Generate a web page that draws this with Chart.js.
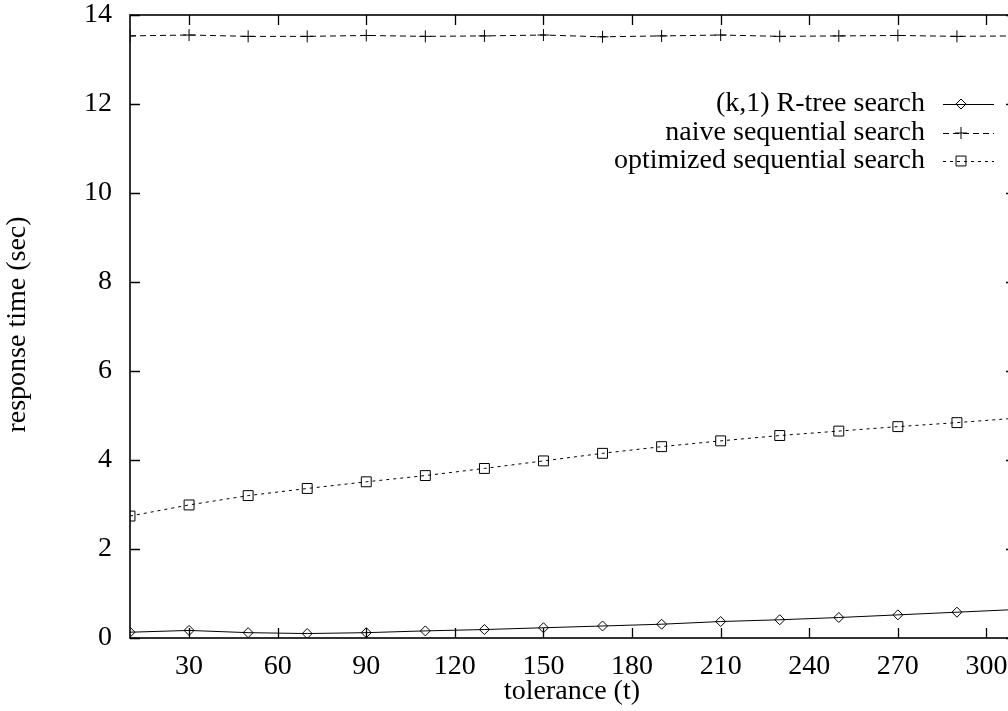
<!DOCTYPE html>
<html>
<head>
<meta charset="utf-8">
<script src="https://cdn.jsdelivr.net/npm/chart.js@4/dist/chart.umd.min.js"></script>
<style>
  html, body { margin: 0; padding: 0; background: #fff; overflow: hidden; }
  #wrap { width: 1040px; height: 711px; }
</style>
</head>
<body>
<div id="wrap"><canvas id="chart"></canvas></div>
<script>
// tolerance values (x)
const tolerance = [10, 30, 50, 70, 90, 110, 130, 150, 170, 190, 210, 230, 250, 270, 290, 310];

// response times (sec)
const rtreeSearch = [0.13, 0.17, 0.12, 0.10, 0.12, 0.16, 0.19, 0.23, 0.27, 0.31, 0.37, 0.41, 0.46, 0.52, 0.58, 0.64];
const naiveSearch = [13.53, 13.55, 13.52, 13.52, 13.54, 13.52, 13.53, 13.55, 13.51, 13.53, 13.55, 13.52, 13.53, 13.54, 13.52, 13.53];
const optimizedSearch = [2.74, 2.99, 3.20, 3.36, 3.51, 3.65, 3.81, 3.98, 4.15, 4.30, 4.43, 4.55, 4.65, 4.75, 4.84, 4.94];

const xTicks = [30, 60, 90, 120, 150, 180, 210, 240, 270, 300];
const yTicks = [0, 2, 4, 6, 8, 10, 12, 14];

const seriesNames = ["(k,1) R-tree search", "naive sequential search", "optimized sequential search"];

const FONT = "'Liberation Serif', 'DejaVu Serif', serif";
const FONT_SIZE = 28;

function toPoints(ys) {
  return tolerance.map((x, i) => ({ x: x, y: ys[i] }));
}

// gnuplot-like frame: inward ticks on all four sides, axis titles, legend
const gnuplotFrame = {
  id: "gnuplotFrame",
  afterDraw(chart) {
    const ctx = chart.ctx;
    const area = chart.chartArea;
    const xs = chart.scales.x;
    const ys = chart.scales.y;
    ctx.save();
    ctx.strokeStyle = "#000";
    ctx.lineWidth = 1.6;
    ctx.strokeRect(area.left, area.top, area.right - area.left, area.bottom - area.top);

    ctx.lineWidth = 1.3;
    ctx.beginPath();
    xTicks.forEach(v => {
      const px = Math.round(xs.getPixelForValue(v)) + 0.5;
      ctx.moveTo(px, area.bottom); ctx.lineTo(px, area.bottom - 10);
      ctx.moveTo(px, area.top); ctx.lineTo(px, area.top + 10);
    });
    yTicks.forEach(v => {
      const py = Math.round(ys.getPixelForValue(v)) + 0.5;
      ctx.moveTo(area.left, py); ctx.lineTo(area.left + 10, py);
      ctx.moveTo(area.right, py); ctx.lineTo(area.right - 10, py);
    });
    ctx.stroke();

    // axis titles
    ctx.fillStyle = "#000";
    ctx.font = FONT_SIZE + "px " + FONT;
    ctx.textAlign = "center";
    ctx.textBaseline = "middle";
    ctx.fillText("tolerance (t)", (area.left + area.right) / 2 - 1, 692);
    ctx.save();
    ctx.translate(18, (area.top + area.bottom) / 2 - 2);
    ctx.rotate(-Math.PI / 2);
    ctx.fillText("response time (sec)", 0, 0);
    ctx.restore();

    // legend, text right aligned with line sample on the right
    const rowsY = [104, 133, 161];
    chart.data.datasets.forEach((ds, i) => {
      const y = rowsY[i];
      ctx.fillStyle = "#000";
      ctx.textAlign = "right";
      ctx.fillText(seriesNames[i], 925, y);
      ctx.save();
      ctx.strokeStyle = "#000";
      ctx.fillStyle = "rgba(0,0,0,0)";
      ctx.lineWidth = 1;
      ctx.setLineDash(ds.borderDash || []);
      ctx.beginPath();
      ctx.moveTo(943, y + 0.5);
      ctx.lineTo(994, y + 0.5);
      ctx.stroke();
      ctx.setLineDash([]);
      Chart.helpers.drawPoint(ctx, {
        pointStyle: ds.pointStyle,
        radius: ds.pointRadius,
        borderWidth: 1
      }, 961, y);
      ctx.restore();
    });
    ctx.restore();
  }
};

new Chart(document.getElementById("chart"), {
  type: "line",
  data: {
    datasets: [
      {
        label: seriesNames[0],
        data: toPoints(rtreeSearch),
        borderColor: "#000",
        borderWidth: 1,
        pointStyle: "rectRot",
        pointRadius: 5,
        pointBorderColor: "#000",
        pointBackgroundColor: "rgba(0,0,0,0)",
        pointBorderWidth: 1
      },
      {
        label: seriesNames[1],
        data: toPoints(naiveSearch),
        borderColor: "#000",
        borderWidth: 1,
        borderDash: [6, 4],
        pointStyle: "cross",
        pointRadius: 6,
        pointBorderColor: "#000",
        pointBorderWidth: 1
      },
      {
        label: seriesNames[2],
        data: toPoints(optimizedSearch),
        borderColor: "#000",
        borderWidth: 1,
        borderDash: [3, 4],
        pointStyle: "rect",
        pointRadius: 7,
        pointBorderColor: "#000",
        pointBackgroundColor: "rgba(0,0,0,0)",
        pointBorderWidth: 1
      }
    ]
  },
  options: {
    responsive: true,
    maintainAspectRatio: false,
    animation: false,
    layout: { padding: { left: 0, right: 24, top: 15, bottom: 0 } },
    plugins: {
      legend: { display: false },
      tooltip: { enabled: false }
    },
    scales: {
      x: {
        type: "linear",
        min: 10,
        max: 310,
        afterBuildTicks: (axis) => { axis.ticks = xTicks.map(v => ({ value: v })); },
        afterFit: (axis) => {
          axis.height = 73;
          axis.paddingLeft = 0;
          axis.paddingRight = 0;
        },
        grid: { display: false, drawTicks: false },
        border: { display: false },
        ticks: {
          color: "#000",
          font: { family: FONT, size: FONT_SIZE },
          padding: 12,
          maxRotation: 0,
          autoSkip: false
        }
      },
      y: {
        min: 0,
        max: 14,
        afterBuildTicks: (axis) => { axis.ticks = yTicks.map(v => ({ value: v })); },
        afterFit: (axis) => {
          axis.width = 130;
          axis.paddingTop = 0;
          axis.paddingBottom = 0;
        },
        grid: { display: false, drawTicks: false },
        border: { display: false },
        ticks: {
          color: "#000",
          font: { family: FONT, size: FONT_SIZE },
          padding: 18
        }
      }
    }
  },
  plugins: [gnuplotFrame]
});
</script>
</body>
</html>
